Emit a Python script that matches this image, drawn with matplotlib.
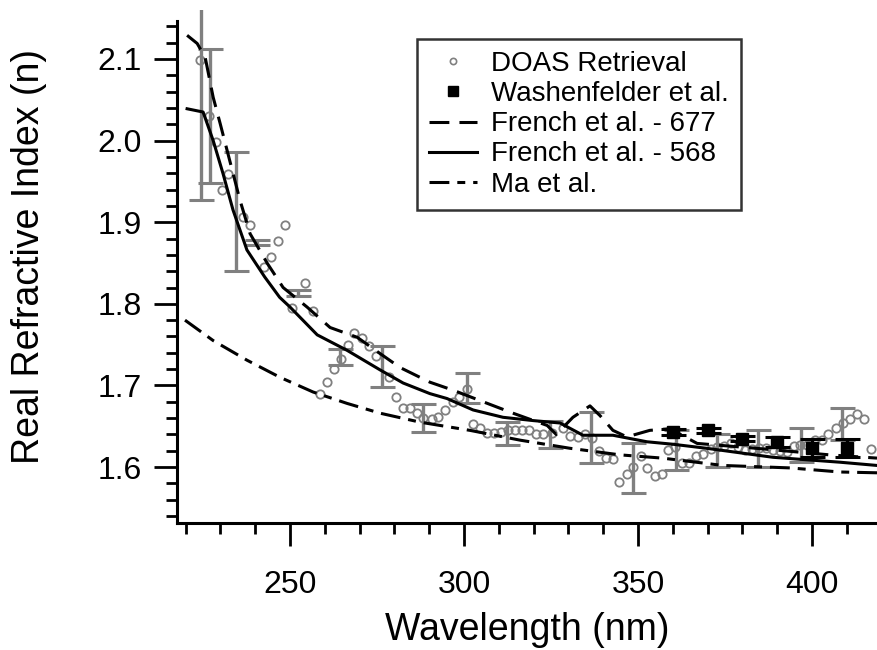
import numpy as np
import matplotlib
matplotlib.use('Agg')
import matplotlib.pyplot as plt
from matplotlib.lines import Line2D
from matplotlib.ticker import MultipleLocator, FixedLocator

plt.rcParams['font.family'] = ['Liberation Sans', 'DejaVu Sans']

# DOAS retrieval (open circles)
doas_wl = [224.1, 226.7, 228.7, 230.4, 232.2, 236.5, 238.5, 242.5, 244.5, 246.6,
           248.6, 250.6, 254.3, 256.6, 258.6, 260.6, 262.6, 264.7, 266.7, 268.4,
           270.7, 272.7, 274.7, 278.4, 280.5, 282.5, 284.5, 286.5, 288.3, 290.8,
           292.5, 294.5, 296.8, 298.6, 300.9, 302.6, 304.6, 306.6, 308.6, 310.6,
           312.6, 314.6, 316.6, 318.6, 320.7, 322.7, 325.3, 328.5, 330.5, 332.8,
           334.8, 336.8, 338.8, 340.8, 342.8, 344.5, 346.8, 348.6, 350.9, 352.6,
           354.9, 356.9, 358.6, 360.7, 362.6, 364.7, 366.7, 368.7, 371.0, 372.8,
           374.7, 376.7, 378.7, 380.7, 382.7, 384.7, 386.8, 388.8, 390.8, 392.8,
           394.8, 396.6, 398.6, 400.9, 402.9, 404.6, 406.9, 408.9, 410.9, 412.9,
           414.9, 416.9]
doas_n = [2.099, 2.030, 1.998, 1.940, 1.959, 1.907, 1.897, 1.845, 1.858, 1.877,
          1.897, 1.795, 1.826, 1.791, 1.689, 1.704, 1.720, 1.733, 1.749, 1.764,
          1.758, 1.748, 1.736, 1.710, 1.686, 1.673, 1.672, 1.666, 1.660, 1.659,
          1.661, 1.670, 1.680, 1.686, 1.696, 1.653, 1.648, 1.642, 1.642, 1.643,
          1.645, 1.646, 1.646, 1.646, 1.641, 1.641, 1.642, 1.648, 1.638, 1.637,
          1.641, 1.636, 1.620, 1.611, 1.610, 1.582, 1.591, 1.600, 1.613, 1.599,
          1.589, 1.591, 1.621, 1.625, 1.605, 1.605, 1.613, 1.616, 1.622, 1.624,
          1.626, 1.629, 1.625, 1.621, 1.622, 1.623, 1.623, 1.621, 1.620, 1.618,
          1.626, 1.627, 1.627, 1.633, 1.633, 1.640, 1.648, 1.654, 1.659, 1.665,
          1.659, 1.622]

# DOAS error bars (subset of points)
bar_wl = [224.3, 226.9, 234.6, 240.4, 252.3, 264.4, 276.4, 288.2, 300.9, 312.4,
          324.7, 336.5, 348.6, 360.9, 372.7, 384.5, 396.8, 408.6]
bar_n = [2.099, 2.030, 1.913, 1.875, 1.813, 1.735, 1.723, 1.660, 1.697, 1.641,
         1.640, 1.636, 1.599, 1.621, 1.620, 1.623, 1.627, 1.653]
bar_err = [0.172, 0.082, 0.073, 0.003, 0.004, 0.010, 0.025, 0.017, 0.018, 0.014,
           0.017, 0.031, 0.031, 0.024, 0.020, 0.023, 0.021, 0.020]

# Washenfelder et al.
wash_wl = [360, 370, 380, 390, 400, 410]
wash_n = [1.643, 1.645, 1.635, 1.631, 1.623, 1.623]
wash_err = [0.004, 0.003, 0.003, 0.006, 0.011, 0.011]

# French et al. - 677
fr677_wl = [220.4, 223.3, 225.6, 227.9, 229.9, 231.9, 235.6, 238.5, 243.4, 248.0,
            254.9, 261.5, 269.3, 275.9, 281.6, 290.2, 297.0, 305.5, 314.1, 323.9,
            326.5, 331.3, 336.2, 339.1, 342.8, 346.8, 353.4, 359.2, 367.0, 384.0,
            394.5, 405.0, 418.7]
fr677_n = [2.129, 2.119, 2.102, 2.053, 2.021, 1.988, 1.927, 1.886, 1.850, 1.820,
           1.796, 1.771, 1.759, 1.739, 1.722, 1.704, 1.694, 1.680, 1.666, 1.651,
           1.640, 1.661, 1.675, 1.663, 1.645, 1.637, 1.645, 1.647, 1.629, 1.623,
           1.619, 1.615, 1.611]

# French et al. - 568
fr568_wl = [220.4, 225.0, 227.9, 230.7, 233.6, 237.6, 242.7, 247.0, 250.0, 257.8,
            266.4, 275.9, 282.5, 290.2, 295.1, 302.6, 311.2, 319.8, 327.6, 334.2,
            342.8, 352.6, 360.0, 369.8, 388.8, 408.0, 418.7]
fr568_n = [2.039, 2.035, 2.000, 1.960, 1.915, 1.866, 1.833, 1.808, 1.796, 1.762,
           1.743, 1.719, 1.703, 1.690, 1.684, 1.670, 1.661, 1.657, 1.654, 1.639,
           1.639, 1.631, 1.628, 1.623, 1.612, 1.606, 1.602]

# Ma et al.
ma_wl = [219.8, 227.9, 237.6, 247.1, 256.6, 266.4, 275.9, 287.4, 301.7, 316.1,
         330.5, 344.8, 357.0, 374.4, 393.7, 408.0, 418.7]
ma_n = [1.780, 1.755, 1.731, 1.710, 1.692, 1.678, 1.666, 1.655, 1.645, 1.633,
        1.623, 1.615, 1.611, 1.602, 1.599, 1.594, 1.593]

y_major = [1.6, 1.7, 1.8, 1.9, 2.0, 2.1]
y_labels = ['1.6', '1.7', '1.8', '1.9', '2.0', '2.1']
y_minor = [1.54, 1.56, 1.58, 1.62, 1.64, 1.66, 1.68, 1.72, 1.74, 1.76, 1.78,
           1.82, 1.84, 1.86, 1.88, 1.92, 1.94, 1.96, 1.98, 2.02, 2.04, 2.06,
           2.08, 2.12, 2.14]

GRAY = '#808080'
LW = 2.2
DASH = (0, (6.5, 3.3))
DASHDOT = (0, (6.5, 2.6, 2.6, 2.6))

fig = plt.figure(figsize=(8.77, 6.5), dpi=100)
ax = fig.add_axes([177 / 877, 127 / 650, 700 / 877, 513 / 650])

ax.errorbar(bar_wl, bar_n, yerr=bar_err, fmt='none', ecolor=GRAY,
            elinewidth=2.4, capsize=9, capthick=2.2, zorder=2)
ax.plot(doas_wl, doas_n, 'o', ms=6, mfc='none', mec=GRAY, mew=1.3, zorder=3)
ax.errorbar(wash_wl, wash_n, yerr=wash_err, fmt='none', ecolor='black',
            elinewidth=2.4, capsize=9, capthick=2.2, zorder=4)
ax.plot(wash_wl, wash_n, 's', ms=9, color='black', zorder=4)
ax.plot(fr677_wl, fr677_n, color='black', lw=LW, ls=DASH, zorder=5)
ax.plot(fr568_wl, fr568_n, color='black', lw=LW, ls='-', zorder=5)
ax.plot(ma_wl, ma_n, color='black', lw=LW, ls=DASHDOT, zorder=5)

ax.set_xlim(217.5, 418.7)
ax.set_ylim(1.5315, 2.16)
ax.spines['top'].set_visible(False)
ax.spines['right'].set_visible(False)
ax.spines['left'].set_bounds(1.5315, 2.147)
for s in ('left', 'bottom'):
    ax.spines[s].set_linewidth(2.2)
ax.set_yticks(y_major)
ax.set_yticklabels(y_labels)
ax.yaxis.set_minor_locator(FixedLocator(y_minor))
ax.xaxis.set_major_locator(MultipleLocator(50))
ax.xaxis.set_minor_locator(MultipleLocator(10))
ax.tick_params(which='major', direction='out', length=16.5, width=2.0,
               labelsize=23)
ax.tick_params(axis='y', which='major', pad=9)
ax.tick_params(axis='x', which='major', pad=17)
ax.tick_params(which='minor', direction='out', length=8, width=2.0)

ax.set_xlabel('Wavelength (nm)', fontsize=27)
ax.set_ylabel('Real Refractive Index (n)', fontsize=27)
ax.xaxis.set_label_coords(0.5, -0.174)
ax.yaxis.set_label_coords(-0.186, 0.52)

handles = [
    Line2D([], [], ls='none', marker='o', ms=4.5, mfc='none', mec=GRAY, mew=1.2),
    Line2D([], [], ls='none', marker='s', ms=7, color='black'),
    Line2D([], [], color='black', lw=LW, ls=DASH),
    Line2D([], [], color='black', lw=LW, ls='-'),
    Line2D([], [], color='black', lw=LW, ls=DASHDOT),
]
labels = ['DOAS Retrieval', 'Washenfelder et al.', 'French et al. - 677',
          'French et al. - 568', 'Ma et al.']
leg = fig.legend(handles, labels, loc='upper left',
                 bbox_to_anchor=(417 / 877, 1 - 39 / 650), fontsize=20,
                 frameon=True, fancybox=False, edgecolor='black',
                 handlelength=1.73, handletextpad=0.5, labelspacing=0.15,
                 borderpad=0.43, borderaxespad=0)
leg.get_frame().set_linewidth(1.8)

fig.savefig('out.png', dpi=100)
